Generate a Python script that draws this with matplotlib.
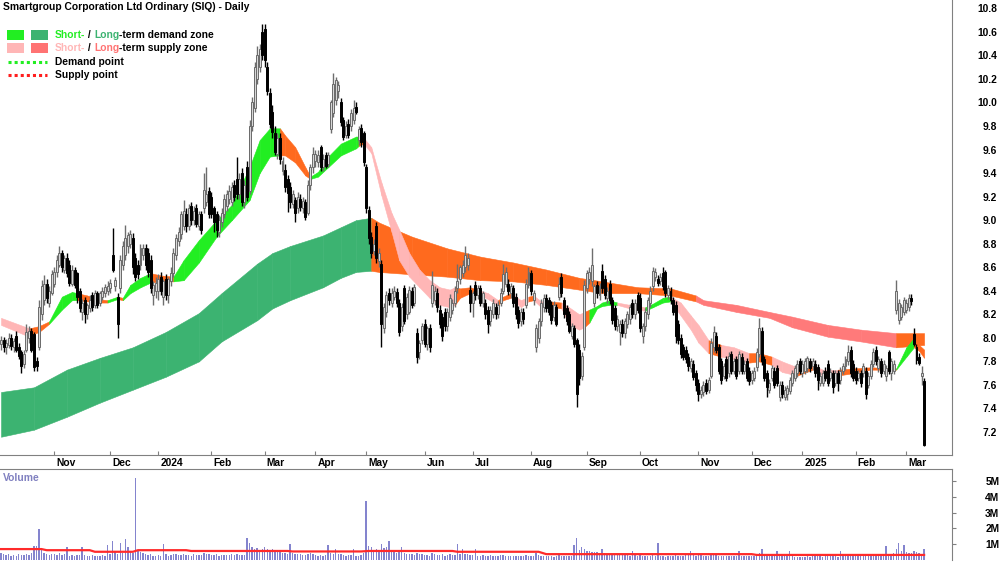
import numpy as np
import pandas as pd
import matplotlib
matplotlib.use("Agg")
import matplotlib.pyplot as plt
from matplotlib.patches import Rectangle
from matplotlib.lines import Line2D
from matplotlib.transforms import blended_transform_factory, offset_copy

plt.rcParams["font.family"] = ["Liberation Sans", "DejaVu Sans"]
plt.rcParams["font.weight"] = "bold"
FS = 7.4

TITLE = "Smartgroup Corporation Ltd Ordinary (SIQ) - Daily"
HOLIDAYS = ["2023-12-25", "2023-12-26", "2024-01-01", "2024-01-26", "2024-03-29",
            "2024-04-01", "2024-04-25", "2024-06-10", "2024-12-25", "2024-12-26",
            "2025-01-01", "2025-01-27"]

# daily candles, one line per month (Oct 2023 .. Mar 2025)
OPEN = [
    7.95, 7.98, 7.92, 7.94, 8.00, 7.92, 8.02, 7.92, 7.88, 7.78, 7.90, 8.00, 8.06, 8.03, 7.80, 7.92, 8.20, 8.32, 8.46, 8.30, 8.38,
    8.46, 8.56, 8.62, 8.72, 8.58, 8.68, 8.62, 8.46, 8.58, 8.55, 8.40, 8.22, 8.32, 8.20, 8.25, 8.36, 8.28, 8.38, 8.30, 8.35, 8.38, 8.40,
    8.42, 8.70, 8.44, 8.35, 8.42, 8.62, 8.70, 8.78, 8.80, 8.85, 8.68, 8.62, 8.62, 8.70, 8.76, 8.72, 8.66, 8.36, 8.40,
    8.40, 8.52, 8.35, 8.50, 8.36, 8.48, 8.55, 8.70, 8.82, 8.88, 8.95, 9.05, 8.95, 9.12, 9.00, 9.10, 8.95, 9.05, 9.10, 9.15, 9.25,
    9.20, 9.10, 9.05, 8.90, 8.98, 9.05, 9.12, 9.18, 9.15, 9.30, 9.35, 9.22, 9.40, 9.15, 9.45, 9.25, 9.80, 9.95, 10.20, 10.30, 10.60,
    10.62, 10.30, 10.08, 9.92, 9.74, 9.56, 9.70, 9.42, 9.43, 9.35, 9.28, 9.14, 9.17, 9.10, 9.18, 9.10, 9.15, 9.06, 9.30, 9.45,
    9.50, 9.49, 9.62, 9.45, 9.55, 9.48, 9.77, 9.91, 10.02, 10.10, 10.00, 9.85, 9.72, 9.82, 9.80, 9.85, 9.96, 9.68, 9.78, 9.74,
    9.45, 9.09, 8.86, 8.74, 8.95, 8.65, 8.63, 8.08, 8.22, 8.38, 8.30, 8.35, 8.39, 8.30, 8.10, 8.42, 8.20, 8.22, 8.40, 8.30, 8.04, 7.88, 7.98,
    8.12, 7.95, 8.08, 8.30, 8.32, 8.38, 8.24, 8.18, 8.22, 8.10, 8.18, 8.24, 8.30, 8.42, 8.50, 8.55, 8.60, 8.62, 8.41,
    8.30, 8.45, 8.36, 8.42, 8.30, 8.30, 8.24, 8.14, 8.20, 8.26, 8.20, 8.30, 8.40, 8.46, 8.46, 8.38, 8.42, 8.35, 8.24, 8.14, 8.22, 8.28, 8.45,
    8.55, 8.32, 7.92, 8.00, 8.14, 8.26, 8.34, 8.32, 8.28, 8.18, 8.26, 8.35, 8.52, 8.32, 8.25, 8.20, 8.02, 8.08, 7.98, 7.90, 7.68, 7.92,
    8.42, 8.50, 8.48, 8.30, 8.45, 8.36, 8.57, 8.50, 8.34, 8.46, 8.32, 8.25, 8.10, 8.05, 8.12, 8.04, 8.12, 8.16, 8.30, 8.20, 8.36,
    8.34, 8.02, 8.10, 8.20, 8.30, 8.44, 8.52, 8.50, 8.48, 8.55, 8.56, 8.36, 8.40, 8.32, 8.28, 8.12, 8.00, 7.92, 7.90, 7.84, 7.74, 7.78, 7.70,
    7.62, 7.52, 7.54, 7.62, 7.56, 7.68, 7.92, 8.02, 7.92, 7.80, 7.68, 7.82, 7.70, 7.86, 7.72, 7.82, 7.72, 7.84, 7.72, 7.80, 7.72,
    7.64, 7.66, 7.75, 7.86, 8.06, 7.82, 7.70, 7.56, 7.66, 7.72, 7.74, 7.50, 7.60, 7.50, 7.52, 7.55, 7.62, 7.66, 7.70, 7.80,
    7.70, 7.72, 7.74, 7.80, 7.76, 7.78, 7.75, 7.62, 7.62, 7.72, 7.78, 7.66, 7.70, 7.62, 7.70, 7.64, 7.72, 7.76, 7.80, 7.90, 7.78,
    7.72, 7.66, 7.70, 7.70, 7.72, 7.60, 7.68, 7.78, 7.90, 7.74, 7.80, 7.72, 7.68, 7.88, 7.70, 7.72, 8.24, 8.15, 8.18, 8.22,
    8.24, 8.26, 8.34, 8.03, 7.92, 7.84, 7.68, 7.63,
]
HIGH = [
    8.02, 8.01, 7.99, 8.04, 8.03, 8.00, 8.06, 7.96, 7.90, 7.90, 8.12, 8.10, 8.08, 8.05, 7.84, 8.32, 8.49, 8.53, 8.50, 8.44, 8.58,
    8.60, 8.70, 8.78, 8.75, 8.70, 8.72, 8.66, 8.62, 8.60, 8.56, 8.42, 8.33, 8.35, 8.30, 8.36, 8.39, 8.41, 8.40, 8.40, 8.43, 8.46, 8.48,
    8.50, 8.93, 8.52, 8.38, 8.70, 8.82, 8.96, 8.90, 8.92, 8.89, 8.72, 8.66, 8.80, 8.80, 8.80, 8.76, 8.70, 8.48, 8.52,
    8.54, 8.56, 8.50, 8.54, 8.52, 8.60, 8.76, 8.88, 8.94, 9.08, 9.17, 9.10, 9.14, 9.15, 9.12, 9.14, 9.08, 9.08, 9.40, 9.45, 9.28,
    9.24, 9.12, 9.08, 9.04, 9.10, 9.22, 9.26, 9.30, 9.32, 9.34, 9.54, 9.40, 9.44, 9.34, 9.50, 9.85, 10.05, 10.34, 10.48, 10.50, 10.67,
    10.67, 10.34, 10.12, 9.98, 9.80, 9.74, 9.74, 9.54, 9.48, 9.38, 9.32, 9.26, 9.20, 9.24, 9.22, 9.20, 9.18, 9.34, 9.48, 9.62,
    9.60, 9.60, 9.64, 9.56, 9.58, 9.58, 10.02, 10.25, 10.22, 10.18, 10.04, 9.88, 9.84, 9.86, 9.94, 10.02, 10.00, 9.80, 9.82, 9.76,
    9.48, 9.12, 8.90, 8.84, 8.98, 8.76, 8.66, 8.30, 8.40, 8.42, 8.42, 8.44, 8.42, 8.33, 8.30, 8.45, 8.38, 8.44, 8.43, 8.46, 8.08, 7.98, 8.13,
    8.16, 8.10, 8.12, 8.57, 8.44, 8.42, 8.28, 8.21, 8.25, 8.25, 8.37, 8.33, 8.44, 8.63, 8.62, 8.66, 8.78, 8.72, 8.45,
    8.40, 8.48, 8.45, 8.45, 8.40, 8.33, 8.27, 8.27, 8.33, 8.30, 8.31, 8.42, 8.63, 8.60, 8.50, 8.47, 8.45, 8.38, 8.27, 8.25, 8.25, 8.50, 8.60,
    8.58, 8.41, 8.12, 8.17, 8.33, 8.37, 8.37, 8.35, 8.31, 8.31, 8.29, 8.52, 8.55, 8.35, 8.28, 8.23, 8.13, 8.11, 8.00, 7.95, 7.88, 8.49,
    8.58, 8.60, 8.76, 8.46, 8.48, 8.47, 8.63, 8.53, 8.43, 8.49, 8.35, 8.28, 8.19, 8.15, 8.16, 8.17, 8.23, 8.29, 8.33, 8.33, 8.39,
    8.38, 8.13, 8.25, 8.35, 8.44, 8.60, 8.59, 8.53, 8.55, 8.60, 8.58, 8.45, 8.43, 8.35, 8.31, 8.15, 8.03, 7.95, 7.93, 7.87, 7.83, 7.81, 7.73,
    7.65, 7.59, 7.63, 7.65, 7.67, 8.00, 8.10, 8.05, 7.95, 7.83, 7.79, 7.85, 7.88, 7.89, 7.83, 7.85, 7.89, 7.87, 7.81, 7.83, 7.75,
    7.73, 7.75, 7.91, 8.17, 8.09, 7.85, 7.73, 7.65, 7.77, 7.75, 7.77, 7.63, 7.63, 7.59, 7.60, 7.67, 7.73, 7.77, 7.81, 7.83,
    7.81, 7.83, 7.85, 7.83, 7.83, 7.81, 7.78, 7.71, 7.73, 7.75, 7.81, 7.74, 7.73, 7.73, 7.73, 7.75, 7.79, 7.85, 7.94, 7.93, 7.81,
    7.75, 7.73, 7.73, 7.79, 7.75, 7.71, 7.81, 7.91, 7.93, 7.85, 7.83, 7.81, 7.77, 7.90, 7.83, 7.81, 8.49, 8.33, 8.29, 8.35,
    8.33, 8.37, 8.37, 8.08, 7.95, 7.87, 7.76, 7.66,
]
LOW = [
    7.90, 7.88, 7.86, 7.91, 7.90, 7.88, 7.88, 7.82, 7.70, 7.74, 7.88, 7.96, 7.88, 7.72, 7.72, 7.90, 8.15, 8.28, 8.30, 8.26, 8.36,
    8.43, 8.52, 8.60, 8.56, 8.55, 8.52, 8.44, 8.44, 8.42, 8.30, 8.22, 8.15, 8.13, 8.16, 8.22, 8.23, 8.25, 8.25, 8.27, 8.32, 8.35, 8.36,
    8.38, 8.56, 8.40, 8.00, 8.38, 8.58, 8.66, 8.72, 8.76, 8.54, 8.48, 8.50, 8.58, 8.66, 8.58, 8.52, 8.38, 8.28, 8.34,
    8.32, 8.36, 8.28, 8.32, 8.30, 8.44, 8.52, 8.66, 8.78, 8.84, 8.92, 8.90, 8.92, 8.96, 8.96, 8.94, 8.92, 8.88, 9.06, 9.12, 9.02,
    9.02, 8.90, 8.86, 8.86, 8.94, 9.02, 9.08, 9.14, 9.12, 9.16, 9.18, 9.18, 9.12, 9.10, 9.16, 9.22, 9.76, 9.92, 10.16, 10.26, 10.36,
    10.30, 10.06, 9.78, 9.70, 9.55, 9.52, 9.48, 9.38, 9.24, 9.07, 9.10, 9.10, 8.98, 9.06, 9.08, 9.06, 9.00, 9.04, 9.26, 9.40,
    9.45, 9.45, 9.42, 9.42, 9.44, 9.45, 9.74, 9.88, 9.98, 10.04, 9.80, 9.68, 9.70, 9.70, 9.76, 9.82, 9.90, 9.64, 9.62, 9.46,
    9.06, 8.80, 8.68, 8.70, 8.64, 8.60, 7.92, 8.04, 8.18, 8.28, 8.26, 8.32, 8.26, 8.02, 8.06, 8.12, 8.16, 8.20, 8.25, 8.27, 7.79, 7.82, 7.95,
    7.92, 7.90, 7.88, 8.26, 8.28, 8.22, 8.08, 7.97, 8.06, 8.06, 8.14, 8.20, 8.26, 8.38, 8.46, 8.52, 8.56, 8.58, 8.22,
    8.18, 8.32, 8.33, 8.27, 8.26, 8.16, 8.04, 8.10, 8.17, 8.16, 8.17, 8.27, 8.37, 8.43, 8.36, 8.34, 8.26, 8.16, 8.08, 8.10, 8.12, 8.25, 8.42,
    8.36, 8.28, 7.88, 7.96, 8.10, 8.22, 8.22, 8.19, 8.12, 8.14, 8.10, 8.32, 8.35, 8.17, 8.11, 8.04, 7.99, 7.92, 7.41, 7.60, 7.64, 7.90,
    8.38, 8.46, 8.44, 8.26, 8.34, 8.32, 8.38, 8.33, 8.30, 8.29, 8.12, 8.07, 8.06, 7.94, 8.01, 8.00, 8.08, 8.12, 8.17, 8.16, 8.21,
    8.05, 7.96, 8.06, 8.16, 8.26, 8.40, 8.48, 8.44, 8.45, 8.41, 8.35, 8.33, 8.29, 8.19, 7.96, 7.95, 7.83, 7.81, 7.79, 7.72, 7.71, 7.64, 7.55,
    7.46, 7.49, 7.51, 7.52, 7.53, 7.66, 7.88, 7.87, 7.69, 7.61, 7.65, 7.63, 7.67, 7.69, 7.69, 7.65, 7.69, 7.69, 7.69, 7.63, 7.60,
    7.61, 7.63, 7.72, 7.84, 7.77, 7.63, 7.50, 7.53, 7.63, 7.57, 7.59, 7.46, 7.49, 7.47, 7.47, 7.52, 7.59, 7.63, 7.67, 7.69,
    7.67, 7.69, 7.71, 7.71, 7.73, 7.67, 7.56, 7.59, 7.59, 7.63, 7.59, 7.63, 7.53, 7.59, 7.55, 7.61, 7.69, 7.73, 7.77, 7.67, 7.63,
    7.61, 7.63, 7.58, 7.67, 7.48, 7.57, 7.65, 7.75, 7.77, 7.71, 7.67, 7.69, 7.63, 7.69, 7.64, 7.69, 8.20, 8.12, 8.15, 8.19,
    8.21, 8.23, 8.28, 7.93, 7.78, 7.77, 7.60, 7.08,
]
CLOSE = [
    7.98, 7.92, 7.96, 8.00, 7.93, 7.97, 7.90, 7.85, 7.76, 7.86, 8.05, 8.06, 7.90, 7.75, 7.76, 8.26, 8.44, 8.46, 8.34, 8.40, 8.54,
    8.56, 8.66, 8.72, 8.60, 8.68, 8.55, 8.47, 8.58, 8.45, 8.35, 8.25, 8.30, 8.20, 8.28, 8.32, 8.26, 8.38, 8.28, 8.38, 8.40, 8.43, 8.44,
    8.47, 8.58, 8.49, 8.12, 8.66, 8.78, 8.85, 8.87, 8.88, 8.60, 8.52, 8.54, 8.76, 8.76, 8.62, 8.56, 8.42, 8.45, 8.47,
    8.50, 8.40, 8.48, 8.36, 8.50, 8.55, 8.72, 8.85, 8.90, 9.05, 9.08, 8.95, 9.10, 9.00, 9.08, 8.97, 9.05, 8.92, 9.26, 9.22, 9.05,
    9.05, 8.98, 8.92, 9.00, 9.06, 9.18, 9.22, 9.25, 9.28, 9.20, 9.22, 9.35, 9.15, 9.30, 9.20, 9.80, 10.00, 10.30, 10.40, 10.45, 10.40,
    10.36, 10.10, 9.82, 9.75, 9.58, 9.70, 9.52, 9.50, 9.28, 9.23, 9.15, 9.22, 9.06, 9.20, 9.11, 9.16, 9.03, 9.30, 9.45, 9.56,
    9.56, 9.55, 9.45, 9.52, 9.46, 9.55, 10.00, 10.16, 10.19, 10.15, 9.83, 9.71, 9.80, 9.72, 9.91, 9.95, 9.92, 9.77, 9.66, 9.49,
    9.10, 8.85, 8.72, 8.80, 8.68, 8.72, 8.12, 8.26, 8.36, 8.32, 8.38, 8.40, 8.30, 8.05, 8.26, 8.14, 8.35, 8.41, 8.28, 8.43, 7.84, 7.96, 8.10,
    7.95, 8.08, 7.92, 8.45, 8.40, 8.26, 8.12, 8.02, 8.10, 8.22, 8.34, 8.30, 8.40, 8.48, 8.60, 8.62, 8.70, 8.68, 8.30,
    8.38, 8.36, 8.42, 8.30, 8.38, 8.20, 8.12, 8.24, 8.30, 8.20, 8.28, 8.38, 8.54, 8.56, 8.40, 8.44, 8.30, 8.20, 8.13, 8.22, 8.16, 8.46, 8.56,
    8.40, 8.38, 8.08, 8.14, 8.30, 8.34, 8.25, 8.22, 8.15, 8.28, 8.12, 8.46, 8.38, 8.20, 8.14, 8.06, 8.10, 7.95, 7.52, 7.66, 7.85, 8.45,
    8.55, 8.56, 8.62, 8.44, 8.38, 8.44, 8.42, 8.36, 8.40, 8.32, 8.15, 8.10, 8.16, 8.12, 8.04, 8.14, 8.20, 8.26, 8.20, 8.30, 8.24,
    8.08, 8.10, 8.22, 8.32, 8.40, 8.57, 8.56, 8.47, 8.52, 8.44, 8.38, 8.42, 8.32, 8.22, 8.02, 7.98, 7.86, 7.84, 7.82, 7.76, 7.80, 7.67, 7.60,
    7.52, 7.56, 7.60, 7.55, 7.64, 7.96, 8.05, 7.90, 7.72, 7.64, 7.76, 7.66, 7.85, 7.72, 7.80, 7.68, 7.86, 7.72, 7.78, 7.66, 7.63,
    7.70, 7.72, 7.88, 8.08, 7.80, 7.66, 7.58, 7.62, 7.74, 7.60, 7.62, 7.60, 7.52, 7.56, 7.57, 7.64, 7.70, 7.74, 7.78, 7.72,
    7.78, 7.80, 7.83, 7.74, 7.80, 7.70, 7.64, 7.68, 7.70, 7.66, 7.62, 7.71, 7.58, 7.70, 7.62, 7.72, 7.76, 7.82, 7.88, 7.70, 7.66,
    7.64, 7.70, 7.62, 7.76, 7.52, 7.68, 7.78, 7.88, 7.80, 7.82, 7.70, 7.78, 7.74, 7.72, 7.80, 7.78, 8.40, 8.30, 8.26, 8.32,
    8.30, 8.34, 8.31, 7.95, 7.81, 7.79, 7.70, 7.09,
]
# volume in thousands of shares
VOLUME = [
    420, 380, 300, 350, 280, 330, 260, 400, 310, 290, 350, 300, 420, 880, 900, 1950, 700, 450, 380, 320, 350,
    380, 330, 420, 300, 350, 830, 280, 310, 260, 300, 340, 830, 300, 280, 260, 320, 240, 230, 280, 300, 250, 970,
    400, 1230, 500, 380, 1100, 420, 1350, 800, 600, 450, 5170, 600, 520, 420, 380, 300, 350, 280, 260,
    300, 280, 1000, 350, 280, 310, 400, 360, 300, 330, 380, 290, 320, 280, 350, 300, 330, 290, 420, 380, 350,
    330, 300, 360, 280, 310, 290, 330, 300, 350, 320, 380, 300, 340, 310, 1400, 1050, 800, 700, 780, 650, 700,
    800, 700, 650, 720, 600, 500, 480, 420, 450, 380, 1000, 420, 380, 350, 400, 320, 300, 350, 420, 380,
    300, 280, 320, 260, 300, 950, 420, 380, 700, 350, 400, 300, 280, 320, 300, 700, 280, 260, 300, 420,
    3740, 900, 820, 600, 700, 650, 1000, 750, 820, 1200, 600, 500, 450, 480, 800, 420, 380, 400, 350, 330, 450, 380, 360,
    330, 300, 280, 420, 350, 300, 330, 360, 280, 300, 350, 320, 300, 1000, 400, 700, 380, 350, 330,
    300, 700, 280, 250, 300, 260, 280, 300, 240, 270, 250, 300, 320, 280, 260, 240, 280, 250, 230, 260, 240, 300, 280,
    260, 240, 420, 300, 280, 250, 230, 260, 240, 220, 250, 300, 260, 240, 230, 260, 250, 970, 1380, 620, 850, 680,
    600, 550, 520, 480, 500, 450, 700, 420, 380, 350, 400, 380, 330, 300, 350, 320, 300, 280, 600, 300, 280,
    300, 250, 280, 240, 260, 300, 280, 1050, 260, 240, 220, 250, 230, 260, 300, 280, 250, 270, 300, 330, 550, 300, 280,
    350, 300, 280, 260, 250, 400, 350, 300, 280, 260, 250, 240, 260, 230, 250, 240, 600, 260, 240, 230, 250,
    260, 280, 300, 450, 720, 400, 350, 300, 280, 260, 600, 250, 240, 230, 260, 550, 240, 220, 200, 180,
    200, 220, 240, 210, 230, 250, 280, 240, 220, 230, 250, 240, 260, 230, 220, 550, 260, 280, 300, 350, 300,
    280, 260, 300, 280, 350, 300, 280, 260, 300, 280, 260, 300, 900, 320, 300, 450, 700, 1070, 600, 960,
    500, 450, 420, 600, 500, 450, 350, 720,
]
# volume average line (bar index, millions)
VMA_IDX = [0, 16, 18, 35, 37, 52, 54, 73, 75, 113, 115, 142, 145, 178, 180, 212, 215, 296, 298, 364]
VMA = [0.69, 0.69, 0.62, 0.62, 0.52, 0.52, 0.62, 0.62, 0.57, 0.57, 0.54, 0.54, 0.57, 0.57,
       0.52, 0.52, 0.37, 0.37, 0.32, 0.32]

# short-term zone: bar index, upper, lower, state of following stretch
ST_IDX = [0, 10, 11, 15, 19, 24, 28, 30, 34, 38, 42, 46, 48, 51, 55, 59, 63, 68, 72, 78,
          85, 91, 98, 102, 106, 110, 112, 116, 120, 122, 125, 129, 134, 140, 141, 143, 146, 150, 154, 157,
          161, 165, 169, 173, 177, 179, 181, 185, 189, 192, 196, 198, 201, 205, 208, 210, 213, 216, 221, 224,
          228, 230, 232, 235, 237, 240, 243, 248, 254, 257, 261, 264, 268, 272, 275, 279, 284, 289, 295, 299,
          304, 308, 314, 320, 324, 330, 336, 343, 353, 357, 360, 362, 364]
ST_TOP = [8.17, 8.09, 8.08, 8.10, 8.14, 8.35, 8.39, 8.38, 8.36, 8.33, 8.32, 8.35, 8.34, 8.45, 8.51, 8.55, 8.53, 8.52, 8.66, 8.83,
          9.00, 9.13, 9.45, 9.68, 9.78, 9.78, 9.72, 9.62, 9.45, 9.37, 9.41, 9.54, 9.65, 9.71, 9.71, 9.70, 9.62, 9.32, 9.06, 8.92,
          8.72, 8.58, 8.49, 8.43, 8.41, 8.43, 8.42, 8.43, 8.40, 8.38, 8.32, 8.35, 8.38, 8.32, 8.35, 8.36, 8.31, 8.31, 8.30, 8.26,
          8.20, 8.22, 8.24, 8.27, 8.30, 8.32, 8.30, 8.28, 8.26, 8.29, 8.34, 8.35, 8.30, 8.19, 8.11, 7.98, 7.94, 7.92, 7.87, 7.87,
          7.84, 7.80, 7.75, 7.77, 7.73, 7.73, 7.74, 7.75, 7.74, 7.92, 8.00, 7.94, 7.90]
ST_BOT = [8.11, 8.02, 8.02, 8.05, 8.12, 8.24, 8.32, 8.32, 8.31, 8.30, 8.30, 8.33, 8.32, 8.38, 8.43, 8.47, 8.48, 8.48, 8.49, 8.64,
          8.86, 9.00, 9.17, 9.40, 9.54, 9.55, 9.55, 9.49, 9.38, 9.35, 9.37, 9.45, 9.55, 9.61, 9.63, 9.65, 9.57, 9.21, 8.90, 8.66,
          8.52, 8.43, 8.34, 8.28, 8.26, 8.28, 8.34, 8.38, 8.36, 8.33, 8.28, 8.32, 8.34, 8.26, 8.31, 8.32, 8.26, 8.27, 8.25, 8.11,
          8.07, 8.09, 8.13, 8.25, 8.27, 8.28, 8.28, 8.25, 8.23, 8.26, 8.30, 8.31, 8.19, 8.07, 7.96, 7.87, 7.84, 7.82, 7.79, 7.80,
          7.77, 7.71, 7.68, 7.73, 7.68, 7.68, 7.70, 7.73, 7.73, 7.84, 7.92, 7.89, 7.83]
ST_STATE = "SSNNDDDNNNDNDDDNNDDDDDDDDNNNNDDDDDNSSSSSSSSSSNNNSSNNSSNSSNSSSNDDDDSSDDDSSSSNSSNNSSNSSNNNDDNNN"

# long-term zone
LT_IDX = [0, 13, 26, 39, 52, 65, 78, 87, 101, 107, 114, 127, 134, 140, 146, 149, 162, 176, 189, 202,
          215, 228, 237, 251, 264, 274, 277, 290, 303, 312, 326, 339, 353, 364]
LT_TOP = [7.54, 7.58, 7.73, 7.83, 7.92, 8.05, 8.21, 8.38, 8.63, 8.72, 8.78, 8.87, 8.94, 9.00, 9.02, 8.98, 8.86, 8.76, 8.69, 8.64,
          8.58, 8.51, 8.48, 8.43, 8.42, 8.36, 8.32, 8.28, 8.22, 8.18, 8.11, 8.07, 8.04, 8.04]
LT_BOT = [7.16, 7.22, 7.33, 7.45, 7.56, 7.67, 7.80, 7.97, 8.15, 8.25, 8.32, 8.43, 8.51, 8.56, 8.57, 8.56, 8.54, 8.52, 8.49, 8.48,
          8.45, 8.41, 8.38, 8.38, 8.36, 8.31, 8.28, 8.22, 8.17, 8.09, 8.01, 7.97, 7.92, 7.94]
LT_STATE = "DDDDDDDDDDDDDDNNNNNNNNNNNSSSSSSSNN"

ST_COL = {"D": "#22EE22", "S": "#FFB6B6", "N": "#FF6A1E"}
LT_COL = {"D": "#3CB371", "S": "#FF7A7A", "N": "#FF6A1E"}

W, H = 1000, 562
fig = plt.figure(figsize=(W / 100, H / 100), dpi=100)
ax = fig.add_axes([0, 1 - 455 / H, 952 / W, 455 / H])
axv = fig.add_axes([0, 2 / H, 952 / W, 91 / H])

o = np.array(OPEN)
hi = np.array(HIGH)
lo = np.array(LOW)
c = np.array(CLOSE)
n = len(c)
x = np.arange(n)
dates = pd.bdate_range("2023-10-03", periods=n, freq="C", holidays=HOLIDAYS)


def draw_zone(idx, top, bot, state, pal):
    for k in range(len(idx) - 1):
        ax.fill_between([idx[k], idx[k + 1]], [bot[k], bot[k + 1]], [top[k], top[k + 1]],
                        color=pal[state[k]], lw=0.4, zorder=1)


draw_zone(LT_IDX, LT_TOP, LT_BOT, LT_STATE, LT_COL)
draw_zone(ST_IDX, ST_TOP, ST_BOT, ST_STATE, ST_COL)

# candles
up = c >= o
ax.vlines(x[up], lo[up], hi[up], colors="#6e6e6e", lw=1.0, zorder=2)
ax.vlines(x[~up], lo[~up], hi[~up], colors="black", lw=1.0, zorder=2)
body_up = np.maximum(c - o, 0.012)
body_dn = np.maximum(o - c, 0.012)
ax.bar(x[up], body_up[up], bottom=o[up], width=0.78, color="#d8d8d8", edgecolor="#6a6a6a",
       lw=0.7, zorder=3)
ax.bar(x[~up], body_dn[~up], bottom=c[~up], width=0.78, color="black", edgecolor="black",
       lw=0.7, zorder=3)

ax.set_xlim(-0.4, 375)
ax.set_ylim(7.005, 10.87)
ax.set_yticks(np.arange(7.2, 10.81, 0.2))
ax.set_yticklabels([f"{v:.1f}" for v in np.arange(7.2, 10.81, 0.2)])
ax.yaxis.tick_right()
ax.tick_params(axis="y", length=0, pad=32.4, labelsize=FS)
for t in ax.get_yticklabels():
    t.set_ha("right")

# month ticks
month_start = [i for i in range(1, n) if dates[i].month != dates[i - 1].month]
ax.set_xticks(month_start)
ax.set_xticklabels([])
ax.tick_params(axis="x", direction="in", length=3, color="#808080")
trans = offset_copy(blended_transform_factory(ax.transData, ax.transAxes), fig=fig,
                    x=2, y=-8, units="dots")
for i in month_start:
    lab = str(dates[i].year) if dates[i].month == 1 else dates[i].strftime("%b")
    ax.text(i, 0, lab, transform=trans, ha="left", va="center", fontsize=FS)

for s in ["left", "top"]:
    ax.spines[s].set_visible(False)
for s in ["right", "bottom"]:
    ax.spines[s].set_color("#808080")

# volume panel
axv.bar(x, np.array(VOLUME) * 1000, width=0.55, color="#8484CE", zorder=2)
axv.plot(VMA_IDX, np.array(VMA) * 1e6, color="#FF2A2A", lw=1.6, zorder=3)
axv.set_xlim(-0.4, 375)
axv.set_ylim(0, 5.75e6)
axv.set_xticks([])
axv.yaxis.tick_right()
axv.set_yticks([1e6, 2e6, 3e6, 4e6, 5e6])
axv.set_yticklabels(["1M", "2M", "3M", "4M", "5M"])
axv.tick_params(axis="y", length=3, color="#808080", pad=31, labelsize=FS)
for t in axv.get_yticklabels():
    t.set_ha("right")
for s in ["left", "bottom"]:
    axv.spines[s].set_visible(False)
for s in ["right", "top"]:
    axv.spines[s].set_color("#808080")
axv.text(3 / 952, 1 - 9 / 91, "Volume", transform=axv.transAxes, color="#8080C0",
         fontsize=FS, ha="left", va="center")

# title and legend
fig.text(3 / W, 1 - 7 / H, TITLE, fontsize=FS, ha="left", va="center")
for (px, py, col) in [(7, 30, ST_COL["D"]), (31, 30, LT_COL["D"]),
                      (7, 43, ST_COL["S"]), (31, 43, "#FF7373")]:
    fig.add_artist(Rectangle((px / W, 1 - (py + 10) / H), 17 / W, 10 / H,
                             transform=fig.transFigure, color=col, lw=0))
for py, col in [(62, "#22EE22"), (75, "#FF1E1E")]:
    fig.add_artist(Line2D([8 / W, 47 / W], [1 - py / H, 1 - py / H], transform=fig.transFigure,
                          color=col, lw=2.2, linestyle=(0, (1, 1))))

rend = fig.canvas.get_renderer()


def colored_text(px, py, parts):
    for s, col in parts:
        t = fig.text(px / W, 1 - py / H, s, color=col, fontsize=FS, ha="left", va="center")
        px += t.get_window_extent(rend).width


colored_text(55, 35, [("Short-", "#22EE22"), (" / ", "black"), ("Long", "#3CB371"),
                      ("-term demand zone", "black")])
colored_text(55, 48, [("Short-", "#FFB6B6"), (" / ", "black"), ("Long", "#FF7373"),
                      ("-term supply zone", "black")])
colored_text(55, 62, [("Demand point", "black")])
colored_text(55, 75, [("Supply point", "black")])

fig.savefig("out.png", dpi=100)
